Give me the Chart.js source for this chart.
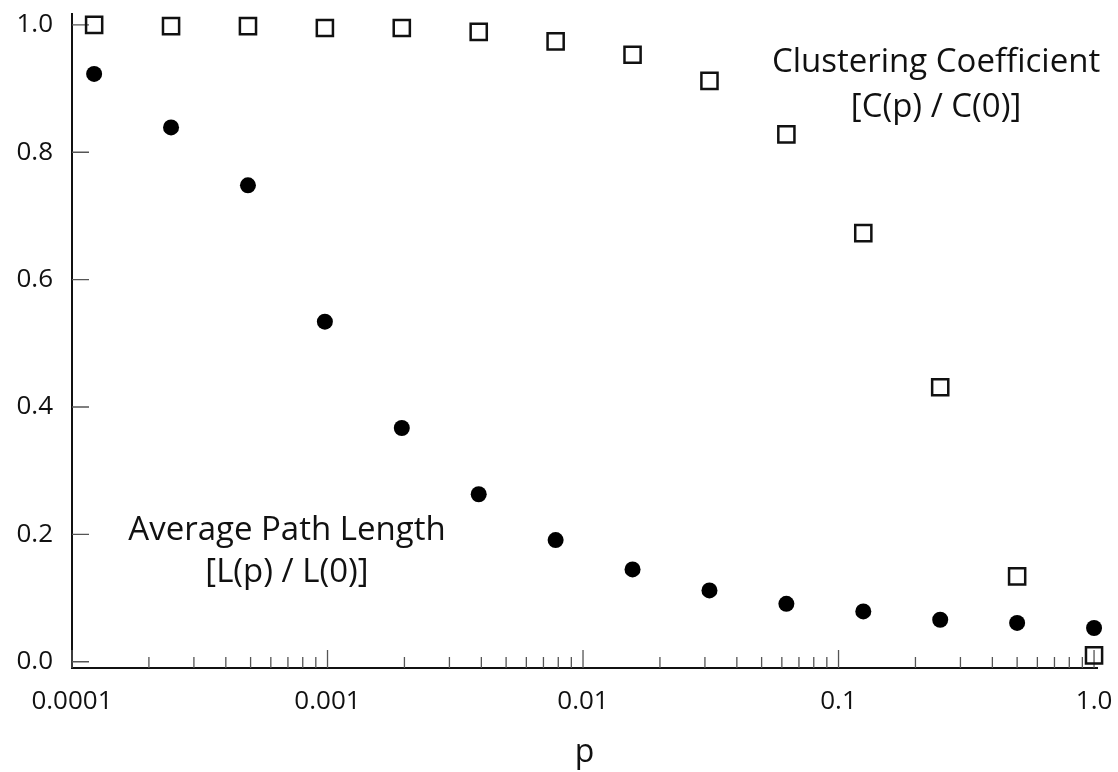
<!DOCTYPE html>
<html>
<head>
<meta charset="utf-8">
<script src="https://cdn.jsdelivr.net/npm/chart.js@4.4.0/dist/chart.umd.min.js"></script>
<style>
  html, body { margin: 0; padding: 0; background: #ffffff; }
  #wrap { width: 1118px; height: 772px; }
</style>
</head>
<body>
<div id="wrap"><canvas id="c" width="1118" height="772"></canvas></div>
<script>
// ---- data ----
const pValues = [0.00012207, 0.00024414, 0.00048828, 0.00097656, 0.0019531, 0.0039063, 0.0078125,
                 0.015625, 0.03125, 0.0625, 0.125, 0.25, 0.5, 1.0];
const pathLength = [0.923, 0.839, 0.748, 0.534, 0.367, 0.263, 0.191, 0.145, 0.112, 0.091, 0.079, 0.066, 0.061, 0.053];
const clustering = [1.0, 0.998, 0.998, 0.995, 0.995, 0.989, 0.974, 0.953, 0.912, 0.828, 0.673, 0.431, 0.134, 0.010];

const xMajorTicks = [0.0001, 0.001, 0.01, 0.1, 1.0];
const xTickLabels = ['0.0001', '0.001', '0.01', '0.1', '1.0'];
const yTicks = [0.0, 0.2, 0.4, 0.6, 0.8, 1.0];
const yTickLabels = ['0.0', '0.2', '0.4', '0.6', '0.8', '1.0'];

const xTitle = 'p';
const labelClustering = ['Clustering Coefficient', '[C(p) / C(0)]'];
const labelPath = ['Average Path Length', '[L(p) / L(0)]'];
// anchor positions of the annotation texts, in data units (p, baseline value)
const labelClusteringPos = { p: 0.2408, y: [0.926, 0.856] };
const labelPathPos = { p: 0.000694, y: [0.1906, 0.1249] };

// minor log ticks 2..9 in each decade
const xMinorTicks = [];
for (let i = 0; i < xMajorTicks.length - 1; i++) {
  for (let k = 2; k <= 9; k++) xMinorTicks.push(xMajorTicks[i] * k);
}
const allXTicks = xMajorTicks.concat(xMinorTicks).sort((a, b) => a - b);

Chart.defaults.font.family = '"Open Sans", "DejaVu Sans", sans-serif';
Chart.defaults.color = '#111';

const tickPlugin = {
  id: 'innerTicks',
  beforeDatasetsDraw(chart) {
    const ctx = chart.ctx, xs = chart.scales.x, ys = chart.scales.y;
    ctx.save();
    ctx.strokeStyle = '#555';
    ctx.lineWidth = 1.3;
    ctx.beginPath();
    yTicks.forEach(v => {
      const py = ys.getPixelForValue(v);
      ctx.moveTo(xs.left, py);
      ctx.lineTo(xs.left + 17, py);
    });
    xMinorTicks.forEach(v => {
      const px = xs.getPixelForValue(v);
      ctx.moveTo(px, ys.bottom);
      ctx.lineTo(px, ys.bottom - 11);
    });
    xMajorTicks.forEach(v => {
      const px = xs.getPixelForValue(v);
      ctx.moveTo(px, ys.bottom);
      ctx.lineTo(px, ys.bottom - 18);
    });
    ctx.stroke();
    ctx.restore();
  }
};

const textPlugin = {
  id: 'seriesText',
  afterDraw(chart) {
    const ctx = chart.ctx, xs = chart.scales.x, ys = chart.scales.y;
    ctx.save();
    ctx.fillStyle = '#111';
    ctx.font = '33px "Open Sans"';
    ctx.textAlign = 'center';
    ctx.textBaseline = 'alphabetic';
    [[labelClustering, labelClusteringPos], [labelPath, labelPathPos]].forEach(([lines, pos]) => {
      const px = xs.getPixelForValue(pos.p);
      lines.forEach((t, i) => ctx.fillText(t, px, ys.getPixelForValue(pos.y[i])));
    });
    ctx.restore();
  }
};

new Chart(document.getElementById('c'), {
  type: 'scatter',
  data: {
    datasets: [
      {
        label: 'Average Path Length',
        data: pValues.map((p, i) => ({ x: p, y: pathLength[i] })),
        pointStyle: 'circle',
        pointRadius: 8,
        pointBackgroundColor: '#000',
        pointBorderWidth: 0,
        clip: false
      },
      {
        label: 'Clustering Coefficient',
        data: pValues.map((p, i) => ({ x: p, y: clustering[i] })),
        pointStyle: 'rect',
        pointRadius: 11.4,
        pointBackgroundColor: 'rgba(0,0,0,0)',
        pointBorderColor: '#111',
        pointBorderWidth: 2.5,
        clip: false
      }
    ]
  },
  options: {
    responsive: false,
    animation: false,
    devicePixelRatio: 1,
    events: [],
    layout: { padding: { top: 12, right: 21, bottom: 0, left: 0 } },
    plugins: { legend: { display: false }, tooltip: { enabled: false } },
    scales: {
      x: {
        type: 'logarithmic',
        position: 'bottom',
        min: 0.0001,
        max: 1.027,
        afterBuildTicks: s => { s.ticks = allXTicks.map(v => ({ value: v })); },
        afterFit: s => { s.height = 104; s.paddingLeft = 0; s.paddingRight = 0; },
        grid: { display: false, drawTicks: false },
        border: { display: true, color: '#111', width: 2 },
        ticks: {
          autoSkip: false, maxRotation: 0, minRotation: 0,
          padding: 18,
          font: { size: 26 },
          color: '#111',
          callback: function (value) {
            const idx = xMajorTicks.findIndex(m => Math.abs(m - value) / m < 1e-6);
            return idx >= 0 ? xTickLabels[idx] : '';
          }
        },
        title: { display: true, text: xTitle, font: { size: 32 }, color: '#111', padding: { top: 0, bottom: 0 } }
      },
      y: {
        type: 'linear',
        min: -0.0098,
        max: 1.0172,
        afterBuildTicks: s => { s.ticks = yTicks.map(v => ({ value: v })); },
        afterFit: s => { s.width = 72; s.paddingTop = 0; s.paddingBottom = 0; },
        grid: { display: false, drawTicks: false },
        border: { display: true, color: '#111', width: 2 },
        ticks: {
          padding: 19,
          font: { size: 26 },
          color: '#111',
          callback: function (value) {
            const idx = yTicks.findIndex(m => Math.abs(m - value) < 1e-6);
            return idx >= 0 ? yTickLabels[idx] : '';
          }
        }
      }
    }
  },
  plugins: [tickPlugin, textPlugin]
});
</script>
</body>
</html>
